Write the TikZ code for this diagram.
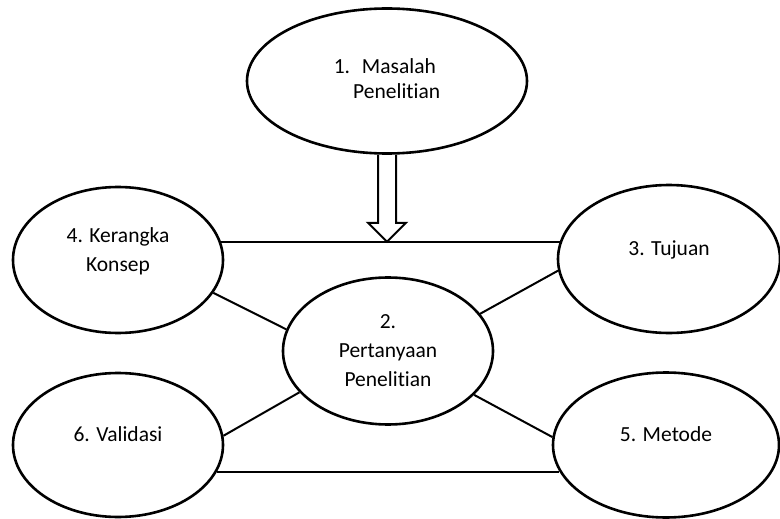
\documentclass[tikz,border=0pt]{standalone}
\usepackage{fontspec}
\setmainfont{Carlito}[Ligatures=NoCommon]
\usetikzlibrary{shapes.geometric}
\tikzset{
  bubble/.style={draw=black, line width=2.6pt, ellipse, inner sep=0pt, align=center,
    font=\fontsize{21.5}{29}\selectfont, text=black},
  link/.style={draw=black, line width=2pt},
  blockarrow/.style={draw=black, line width=2pt, line join=miter}
}
\newcommand{\upbit}[1]{\raisebox{9pt}[\height][\depth]{\begin{tabular}{@{}c@{}}#1\end{tabular}}}
\begin{document}
\begin{tikzpicture}[x=1pt,y=-1pt]
\useasboundingbox (0,0) rectangle (780,519);
\node[bubble, minimum width=280pt, minimum height=145pt] (m) at (387,81)
  {\fontsize{21.5}{25}\selectfont\begin{tabular}{@{}l@{}}1.\hspace{0.55em}Masalah\\\hspace*{0.9em}Penelitian\end{tabular}};
\node[bubble, minimum width=210pt, minimum height=147pt] (c) at (388,351)
  {2.\\Pertanyaan\\Penelitian};
\node[bubble, minimum width=210pt, minimum height=146pt] (k) at (118,260)
  {\upbit{4. Kerangka\\Konsep}};
\node[bubble, minimum width=222pt, minimum height=148pt] (t) at (669,259)
  {\upbit{3. Tujuan}};
\node[bubble, minimum width=210pt, minimum height=144pt] (v) at (118,445)
  {\upbit{6. Validasi}};
\node[bubble, minimum width=226pt, minimum height=145pt] (me) at (666,445)
  {\upbit{5. Metode}};
% connectors
\draw[link] (k.10) -- (k.10 -| t.171);
\draw[link] (v.-15.5) -- (v.-15.5 -| me.194.5);
\draw[link] (k.-19) -- (c.168.5);
\draw[link] (v.5.6) -- (c.205.5);
\draw[link] (t.186) -- (c.22);
\draw[link] (me.176) -- (c.-27);
% block arrow
\coordinate (tip) at (m.south |- k.10);
\draw[blockarrow] ([xshift=-9pt]m.south) -- ([xshift=-9pt,yshift=19pt]tip)
  -- ([xshift=-19pt,yshift=19pt]tip) -- (tip) -- ([xshift=19pt,yshift=19pt]tip)
  -- ([xshift=9pt,yshift=19pt]tip) -- ([xshift=9pt]m.south);
\end{tikzpicture}
\end{document}
